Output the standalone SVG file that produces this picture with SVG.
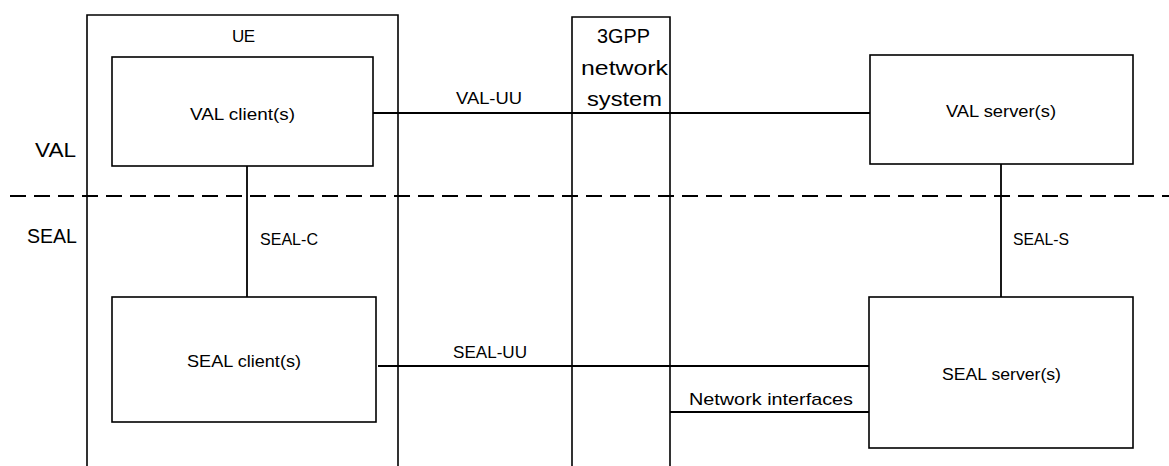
<svg xmlns="http://www.w3.org/2000/svg" width="1169" height="466" viewBox="0 0 1169 466">
<style>
.box{fill:none;stroke:#000;stroke-width:1.6}
.ln{fill:none;stroke:#000;stroke-width:1.8}
.dash{fill:none;stroke:#000;stroke-width:2;stroke-dasharray:16 8}
text{font-family:"Liberation Sans",Arial,sans-serif;fill:#000}
.s{font-size:17px}
.l{font-size:20px}
</style>
<rect width="1169" height="466" fill="#fff"/>
<g id="layers">
<line class="dash" x1="10" y1="196" x2="1169" y2="196"/>
<text class="l" x="35" y="157" textLength="41" lengthAdjust="spacingAndGlyphs">VAL</text>
<text class="l" x="27" y="243" textLength="50" lengthAdjust="spacingAndGlyphs">SEAL</text>
</g>
<g id="ue">
<path class="box" d="M87,466 V15 H398 V466"/>
<text class="s" x="232" y="42" textLength="23" lengthAdjust="spacing">UE</text>
</g>
<g id="network">
<path class="box" d="M572,466 V17 H670 V466"/>
<text class="l" x="597" y="43" textLength="53" lengthAdjust="spacingAndGlyphs">3GPP</text>
<text class="l" x="581" y="75" textLength="87" lengthAdjust="spacingAndGlyphs">network</text>
<text class="l" x="587" y="106" textLength="75" lengthAdjust="spacingAndGlyphs">system</text>
</g>
<g id="val-client">
<rect class="box" x="112" y="57" width="261" height="109"/>
<text class="s" x="190" y="120" textLength="105" lengthAdjust="spacingAndGlyphs">VAL client(s)</text>
</g>
<g id="seal-client">
<rect class="box" x="112" y="297" width="264" height="125"/>
<text class="s" x="187" y="367" textLength="114" lengthAdjust="spacingAndGlyphs">SEAL client(s)</text>
</g>
<g id="val-server">
<rect class="box" x="870" y="55" width="263" height="109"/>
<text class="s" x="946" y="117" textLength="110" lengthAdjust="spacingAndGlyphs">VAL server(s)</text>
</g>
<g id="seal-server">
<rect class="box" x="869" y="297" width="264" height="151"/>
<text class="s" x="942" y="380" textLength="119" lengthAdjust="spacingAndGlyphs">SEAL server(s)</text>
</g>
<g id="connectors">
<line class="ln" x1="373" y1="113" x2="870" y2="113"/>
<text class="s" x="456" y="104" textLength="66" lengthAdjust="spacingAndGlyphs">VAL-UU</text>
<line class="ln" x1="247" y1="166" x2="247" y2="297"/>
<text class="s" x="260" y="245" textLength="58" lengthAdjust="spacingAndGlyphs">SEAL-C</text>
<line class="ln" x1="1001" y1="164" x2="1001" y2="297"/>
<text class="s" x="1013" y="245" textLength="56" lengthAdjust="spacingAndGlyphs">SEAL-S</text>
<line class="ln" x1="378" y1="366" x2="869" y2="366"/>
<text class="s" x="453" y="358" textLength="74" lengthAdjust="spacingAndGlyphs">SEAL-UU</text>
<line class="ln" x1="670" y1="412" x2="869" y2="412"/>
<text class="s" x="689" y="405" textLength="164" lengthAdjust="spacingAndGlyphs">Network interfaces</text>
</g>
</svg>
